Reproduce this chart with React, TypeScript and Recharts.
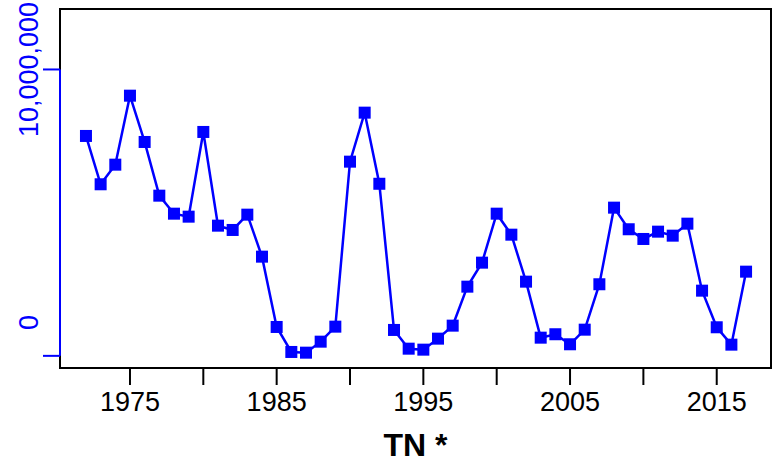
import {
  Label,
  Line,
  LineChart,
  ReferenceArea,
  ReferenceLine,
  XAxis,
  YAxis,
} from "recharts";

const years = [
  1972, 1973, 1974, 1975, 1976, 1977, 1978, 1979, 1980, 1981, 1982, 1983,
  1984, 1985, 1986, 1987, 1988, 1989, 1990, 1991, 1992, 1993, 1994, 1995,
  1996, 1997, 1998, 1999, 2000, 2001, 2002, 2003, 2004, 2005, 2006, 2007,
  2008, 2009, 2010, 2011, 2012, 2013, 2014, 2015, 2016, 2017,
];

const values = [
  7372000, 5462000, 6237000, 8964000, 7134000, 5012000, 4300000, 4182000,
  7530000, 3826000, 3656000, 4261000, 2601000, -178000, -1166000, -1194000,
  -759000, -166000, 6356000, 8293000, 5482000, -296000, -1036000, -1075000,
  -640000, -126000, 1415000, 2364000, 4300000, 3470000, 1613000, -601000,
  -466000, -862000, -285000, 1510000, 4538000, 3684000, 3300000, 3589000,
  3431000, 3905000, 1257000, -190000, -877000, 2008000,
];

const xTicks = [1975, 1980, 1985, 1990, 1995, 2000, 2005, 2010, 2015];
const xLabelled = [1975, 1985, 1995, 2005, 2015];
const yTickLines = [-1320000, 10000000];
const yTickLabels = [0, 10000000];
const yTicks = [-1320000, 0, 10000000];

const X_DOMAIN: [number, number] = [1970.23, 2018.7];
const Y_DOMAIN: [number, number] = [-1800000, 12390000];

const BLUE = "#0000ff";
const FONT = "'Liberation Sans', Arial, sans-serif";

const data = years.map((year, i) => ({ year, value: values[i] }));

function XTick({ x, y, payload }: any) {
  const v = payload.value;
  return (
    <g>
      <line x1={x} x2={x} y1={y} y2={y + 17} stroke="#000" strokeWidth={2} />
      {xLabelled.includes(v) && (
        <text
          x={x}
          y={y + 43}
          textAnchor="middle"
          fontFamily={FONT}
          fontSize={27}
          fill="#000"
        >
          {v}
        </text>
      )}
    </g>
  );
}

function YTick({ x, y, payload }: any) {
  const v = payload.value;
  return (
    <g>
      {yTickLines.includes(v) && (
        <line x1={x - 17} x2={x} y1={y} y2={y} stroke={BLUE} strokeWidth={2} />
      )}
      {yTickLabels.includes(v) && (
        <text
          x={x - 22}
          y={y}
          transform={`rotate(-90, ${x - 22}, ${y})`}
          textAnchor="middle"
          fontFamily={FONT}
          fontSize={27}
          fill={BLUE}
        >
          {v.toLocaleString("en-US")}
        </text>
      )}
    </g>
  );
}

function SquareDot({ cx, cy, index }: any) {
  return (
    <rect key={`dot-${index}`} x={cx - 6} y={cy - 6} width={12} height={12} fill={BLUE} />
  );
}

export default function App() {
  return (
    <div style={{ width: 772, height: 466 }}>
      <style>{`body { margin: 0; }`}</style>
      <LineChart
        width={772}
        height={466}
        data={data}
        margin={{ top: 9, right: 1, bottom: 0, left: 0 }}
      >
        <XAxis
          dataKey="year"
          type="number"
          domain={X_DOMAIN}
          allowDataOverflow
          ticks={xTicks}
          interval={0}
          axisLine={false}
          tickLine={false}
          tickSize={0}
          tickMargin={0}
          tick={<XTick />}
          height={98}
        >
          <Label
            content={({ viewBox }: any) => (
              <text
                x={viewBox.x + viewBox.width / 2}
                y={viewBox.y + 88}
                textAnchor="middle"
                fontFamily={FONT}
                fontSize={32}
                fontWeight="bold"
                fill="#000"
              >
                TN *
              </text>
            )}
          />
        </XAxis>
        <YAxis
          type="number"
          domain={Y_DOMAIN}
          allowDataOverflow
          ticks={yTicks}
          interval={0}
          axisLine={false}
          tickLine={false}
          tickSize={0}
          tickMargin={0}
          tick={<YTick />}
          width={60}
        />
        <ReferenceArea
          x1={X_DOMAIN[0]}
          x2={X_DOMAIN[1]}
          y1={Y_DOMAIN[0]}
          y2={Y_DOMAIN[1]}
          fill="none"
          stroke="#000"
          strokeWidth={2}
          ifOverflow="visible"
        />
        <ReferenceLine
          segment={[
            { x: X_DOMAIN[0], y: yTickLines[0] },
            { x: X_DOMAIN[0], y: yTickLines[1] },
          ]}
          stroke={BLUE}
          strokeWidth={2}
          ifOverflow="visible"
        />
        <Line
          dataKey="value"
          stroke={BLUE}
          strokeWidth={2.5}
          dot={<SquareDot />}
          activeDot={false}
          isAnimationActive={false}
        />
      </LineChart>
    </div>
  );
}
